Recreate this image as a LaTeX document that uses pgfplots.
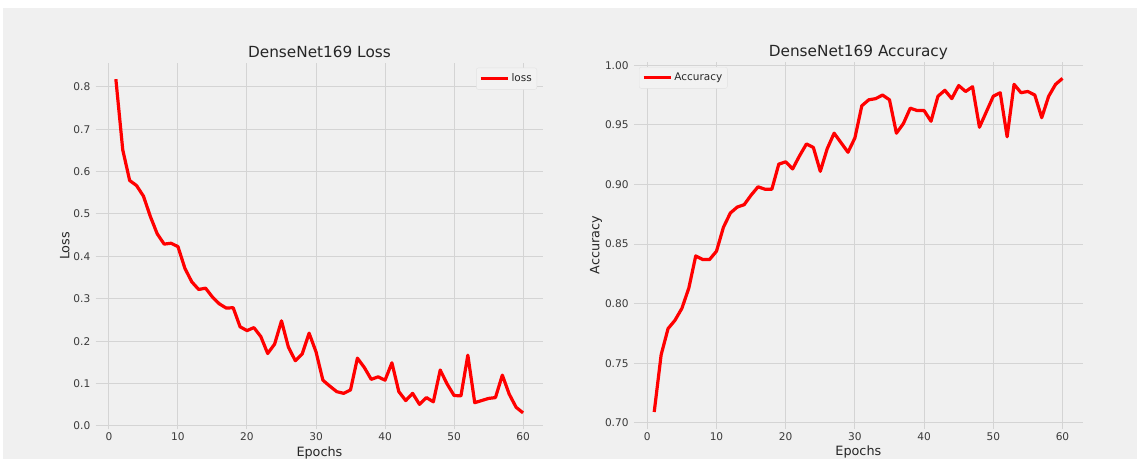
\documentclass[border=0pt]{standalone}
\usepackage{fontspec}
\setmainfont{DejaVu Sans}
\usepackage{pgfplots}
\pgfplotsset{compat=1.18}
\definecolor{bg}{HTML}{F0F0F0}
\definecolor{gridc}{HTML}{D4D4D4}
\definecolor{txt}{HTML}{3A3A3A}
\definecolor{ttl}{HTML}{262626}
\definecolor{legf}{HTML}{F2F2F2}
\definecolor{legd}{HTML}{E2E2E2}

\pgfplotsset{
 my/.style={
  scale only axis,
  axis background/.style={fill=bg},
  axis line style={draw=none},
  major tick length=0pt,
  grid=major,
  major grid style={color=gridc, line width=1pt},
  tick label style={font=\fontsize{10.6}{12}\selectfont, text=txt},
  /pgf/number format/assume math mode=true,
  xtick={0,10,20,30,40,50,60},
  xmin=-1.95, xmax=62.95,
  xticklabel style={anchor=north, inner sep=0pt, yshift=-3.5pt},
  yticklabel style={anchor=east, inner sep=0pt, xshift=-5pt},
  title style={font=\fontsize{15.3}{18}\selectfont, text=ttl, at={(0.5,1)}, anchor=base, yshift=-1pt, inner sep=0pt},
  xlabel style={font=\fontsize{12.8}{15}\selectfont, text=ttl, at={(0.5,0)}, anchor=base, yshift=-26.8pt, inner sep=0pt},
  ylabel style={font=\fontsize{12.8}{15}\selectfont, text=ttl, anchor=center, inner sep=0pt},
  legend style={font=\fontsize{10.5}{12}\selectfont, fill=legf, draw=legd, rounded corners=2pt, inner xsep=3pt, inner ysep=4pt, text=ttl},
  legend cell align=left,
  legend image code/.code={\draw[#1] (0pt,0pt) -- (22pt,0pt); \path (0pt,0pt) -- (27pt,0pt);},
  every axis plot/.append style={line width=3.2pt, line join=round},
 }
}

\pgfplotstableread{
e v
1 0.818
2 0.651
3 0.579
4 0.567
5 0.542
6 0.494
7 0.453
8 0.429
9 0.431
10 0.423
11 0.372
12 0.340
13 0.322
14 0.325
15 0.304
16 0.288
17 0.278
18 0.279
19 0.234
20 0.225
21 0.232
22 0.211
23 0.171
24 0.193
25 0.248
26 0.186
27 0.154
28 0.170
29 0.219
30 0.175
31 0.108
32 0.094
33 0.081
34 0.077
35 0.085
36 0.160
37 0.138
38 0.110
39 0.116
40 0.108
41 0.149
42 0.081
43 0.060
44 0.077
45 0.051
46 0.067
47 0.057
48 0.132
49 0.099
50 0.072
51 0.071
52 0.167
53 0.055
54 0.060
55 0.065
56 0.067
57 0.120
58 0.075
59 0.044
60 0.031
}\losstab

\pgfplotstableread{
e v
1 0.709
2 0.757
3 0.779
4 0.786
5 0.796
6 0.813
7 0.840
8 0.837
9 0.837
10 0.844
11 0.864
12 0.876
13 0.881
14 0.883
15 0.891
16 0.898
17 0.896
18 0.896
19 0.917
20 0.919
21 0.913
22 0.924
23 0.934
24 0.931
25 0.911
26 0.930
27 0.943
28 0.935
29 0.927
30 0.939
31 0.966
32 0.971
33 0.972
34 0.975
35 0.971
36 0.943
37 0.951
38 0.964
39 0.962
40 0.962
41 0.953
42 0.974
43 0.979
44 0.972
45 0.983
46 0.978
47 0.982
48 0.948
49 0.961
50 0.974
51 0.977
52 0.940
53 0.984
54 0.977
55 0.978
56 0.975
57 0.956
58 0.974
59 0.984
60 0.989
}\acctab

\begin{document}
\begin{tikzpicture}
\fill[white] (0,0) rectangle (1137pt,459pt);
\fill[bg] (3pt,0) rectangle (1137pt,451pt);

\begin{axis}[my,
  at={(95.5pt,29.7pt)}, anchor=south west,
  width=447.9pt, height=366.7pt,
  ymin=-0.0078, ymax=0.857,
  ytick={0,0.1,0.2,0.3,0.4,0.5,0.6,0.7,0.8},
  yticklabel style={/pgf/number format/.cd, fixed, fixed zerofill, precision=1},
  title={DenseNet169 Loss},
  xlabel={Epochs}, ylabel={Loss},
  ylabel style={at={(axis description cs:-0.0688,0.5)}},
  legend style={at={(1,1)}, anchor=north east, xshift=-6.4pt, yshift=-5.1pt},
]
\addplot[red, no marks] table[x=e, y=v] {\losstab};
\addlegendentry{loss}
\end{axis}

\begin{axis}[my,
  at={(633.8pt,30.3pt)}, anchor=south west,
  width=449.1pt, height=367pt,
  ymin=0.695, ymax=1.003,
  ytick={0.70,0.75,0.80,0.85,0.90,0.95,1.00},
  yticklabel style={/pgf/number format/.cd, fixed, fixed zerofill, precision=2},
  title={DenseNet169 Accuracy},
  xlabel={Epochs}, ylabel={Accuracy},
  ylabel style={at={(axis description cs:-0.0842,0.5)}},
  legend style={at={(0,1)}, anchor=north west, xshift=5.2pt, yshift=-5.3pt},
]
\addplot[red, no marks] table[x=e, y=v] {\acctab};
\addlegendentry{Accuracy}
\end{axis}

\pgfresetboundingbox
\useasboundingbox (0,0) rectangle (1137pt,459pt);
\end{tikzpicture}
\end{document}
